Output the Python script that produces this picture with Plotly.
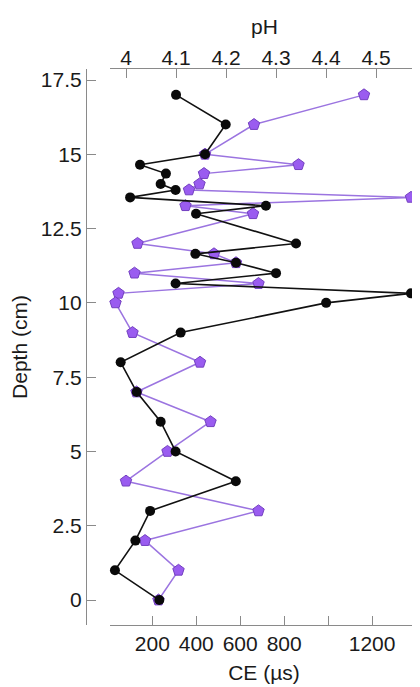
import plotly.graph_objects as go

depth = [17, 16, 15, 14.65, 14.35, 14.0, 13.8, 13.55, 13.27, 13.0, 12, 11.65, 11.35, 11.0,
         10.65, 10.32, 10.0, 9, 8, 7, 6, 5, 4, 3, 2, 1, 0]
ce_values = [308, 534, 440, 144, 262, 238, 306, 99, 717, 399, 854, 396, 581, 763,
             306, 1377, 991, 329, 56, 129, 238, 306, 580, 190, 123, 30, 232]
ph_values = [4.476, 4.256, 4.158, 4.345, 4.156, 4.147, 4.126, 4.57, 4.119, 4.254, 4.023, 4.176, 4.22, 4.017,
             4.265, 3.985, 3.979, 4.013, 4.148, 4.021, 4.169, 4.083, 4.0, 4.265, 4.038, 4.105, 4.065]

ce_ticks = [200, 400, 600, 800, 1000, 1200, 1400]
ce_ticklabels = ["200", "400", "600", "800", "", "1200", ""]
ph_ticks = [4.0, 4.1, 4.2, 4.3, 4.4, 4.5]
ph_ticklabels = ["4", "4.1", "4.2", "4.3", "4.4", "4.5"]
depth_ticks = [0, 2.5, 5, 7.5, 10, 12.5, 15, 17.5]
depth_ticklabels = ["0", "2.5", "5", "7.5", "10", "12.5", "15", "17.5"]

FONT = "Arial, Liberation Sans, sans-serif"
AXIS_GREY = "#8a8a8a"
TXT = "#1a1a1a"

fig = go.Figure()

fig.add_trace(go.Scatter(
    x=ph_values, y=depth, xaxis="x", yaxis="y", mode="lines+markers",
    line=dict(color="#9b74e0", width=1.5),
    marker=dict(symbol="pentagon", size=12, color="#9a5cf0", line=dict(color="#7340c0", width=1)),
    showlegend=False, cliponaxis=False,
))
fig.add_trace(go.Scatter(
    x=ce_values, y=depth, xaxis="x2", yaxis="y", mode="lines+markers",
    line=dict(color="#111111", width=1.6),
    marker=dict(symbol="circle", size=10, color="#0a0a0a"),
    showlegend=False, cliponaxis=False,
))

d0 = 24 / 332
common = dict(showline=True, linecolor=AXIS_GREY, linewidth=1.2, ticks="inside", ticklen=9,
              tickcolor=AXIS_GREY, tickwidth=1.2, showgrid=False, zeroline=False,
              tickfont=dict(family=FONT, size=21, color=TXT), automargin=False)

fig.update_layout(
    width=412, height=679,
    margin=dict(l=78, r=2, t=61, b=62),
    paper_bgcolor="white", plot_bgcolor="white",
    xaxis=dict(domain=[d0, 1], side="top", anchor="y", range=[3.968, 4.584],
               tickmode="array", tickvals=ph_ticks, ticktext=ph_ticklabels,
               ticklabelstandoff=-5,
               **common),
    xaxis2=dict(domain=[d0, 1], side="bottom", anchor="y", overlaying="x", range=[7.5, 1409],
                tickmode="array", tickvals=ce_ticks, ticktext=ce_ticklabels,
                title=dict(text="CE (µs)", font=dict(family=FONT, size=21, color=TXT), standoff=11),
                **common),
    yaxis=dict(anchor="free", position=0, range=[-0.84, 17.87],
               tickmode="array", tickvals=depth_ticks, ticktext=depth_ticklabels,
               title=dict(text="Depth (cm)", font=dict(family=FONT, size=21, color=TXT), standoff=8),
               **common),
    annotations=[dict(text="pH", xref="x domain", yref="paper", x=0.5, y=1 + 43 / 556,
                      xanchor="center", yanchor="middle", showarrow=False,
                      font=dict(family=FONT, size=21, color=TXT))],
)

fig.write_html("out.html")
